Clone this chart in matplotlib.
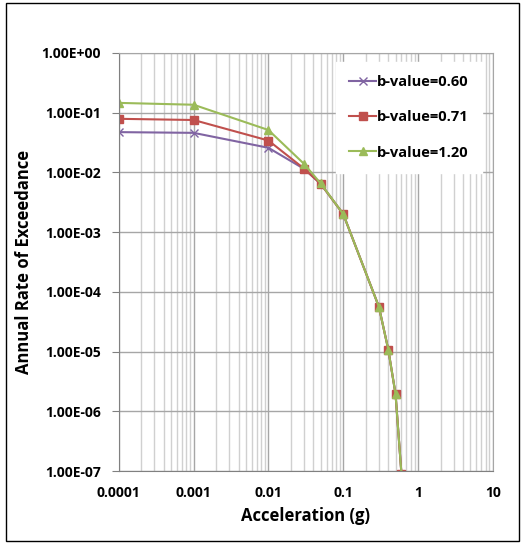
import matplotlib.pyplot as plt
from matplotlib.ticker import LogLocator, FixedLocator, NullFormatter
from matplotlib.patches import Rectangle

# Datos
accel = [0.0001, 0.001, 0.01, 0.03, 0.05, 0.1, 0.3, 0.4, 0.5, 0.6]
rate_b060 = [0.047, 0.0457, 0.0257, 0.0114, 0.0064, 0.0020, 5.6e-5, 1.08e-5, 1.95e-6, 9e-8]
rate_b071 = [0.0785, 0.075, 0.034, 0.0115, 0.0064, 0.0020, 5.6e-5, 1.08e-5, 1.95e-6, 9e-8]
rate_b120 = [0.145, 0.135, 0.051, 0.0138, 0.0065, 0.0020, 5.6e-5, 1.08e-5, 1.95e-6, 9e-8]

x_ticks = [0.0001, 0.001, 0.01, 0.1, 1, 10]
x_labels = ['0.0001', '0.001', '0.01', '0.1', '1', '10']
y_ticks = [1e-7, 1e-6, 1e-5, 1e-4, 1e-3, 1e-2, 1e-1, 1e0]
y_labels = ['1.00E-07', '1.00E-06', '1.00E-05', '1.00E-04',
            '1.00E-03', '1.00E-02', '1.00E-01', '1.00E+00']

plt.rcParams['font.family'] = ['Open Sans', 'DejaVu Sans']
plt.rcParams['font.weight'] = 'bold'

fig = plt.figure(figsize=(5.21, 5.44), dpi=100)
ax = fig.add_axes([0.228, 0.134, 0.718, 0.769])

# borde del area del grafico
fig.patches.append(Rectangle((0.012, 0.005), 0.984, 0.99, transform=fig.transFigure,
                             fill=False, edgecolor='black', linewidth=1.0))

ax.plot(accel, rate_b060, color='#8064A2', marker='x', markersize=6, linewidth=1.5,
        label='b-value=0.60')
ax.plot(accel, rate_b071, color='#C0504D', marker='s', markersize=6, linewidth=1.5,
        label='b-value=0.71')
ax.plot(accel, rate_b120, color='#9BBB59', marker='^', markersize=6, linewidth=1.5,
        label='b-value=1.20')

ax.set_xscale('log')
ax.set_yscale('log')
ax.set_xlim(1e-4, 10)
ax.set_ylim(1e-7, 1)

ax.xaxis.set_major_locator(FixedLocator(x_ticks))
ax.set_xticklabels(x_labels, fontweight='bold')
ax.xaxis.set_minor_locator(LogLocator(base=10, subs=range(2, 10), numticks=50))
ax.xaxis.set_minor_formatter(NullFormatter())
ax.yaxis.set_major_locator(FixedLocator(y_ticks))
ax.set_yticklabels(y_labels, fontweight='bold')
ax.yaxis.set_minor_locator(FixedLocator([]))

ax.grid(True, which='major', color='#A6A6A6', linewidth=1.0)
ax.grid(True, which='minor', axis='x', color='#D0D0D0', linewidth=1.0)
ax.set_axisbelow(True)

for s in ['top', 'right']:
    ax.spines[s].set_color('#A6A6A6')
for s in ['left', 'bottom']:
    ax.spines[s].set_color('#808080')

ax.tick_params(axis='both', which='major', labelsize=10, length=5, color='#808080')
ax.tick_params(axis='x', which='major', length=0, pad=11)
ax.tick_params(axis='y', which='major', pad=8)
ax.tick_params(axis='both', which='minor', length=0)

ax.set_xlabel('Acceleration (g)', fontsize=12, fontweight='bold', labelpad=5)
ax.set_ylabel('Annual Rate of Exceedance', fontsize=12, fontweight='bold', labelpad=6)

leg = ax.legend(loc='upper right', bbox_to_anchor=(0.99, 0.995), fontsize=10.5,
                frameon=True, fancybox=False, edgecolor='white', framealpha=1,
                labelspacing=1.45, handlelength=1.8, handletextpad=0.1, borderpad=0.9)
for t in leg.get_texts():
    t.set_fontweight('bold')

plt.savefig('out.png', dpi=100)
